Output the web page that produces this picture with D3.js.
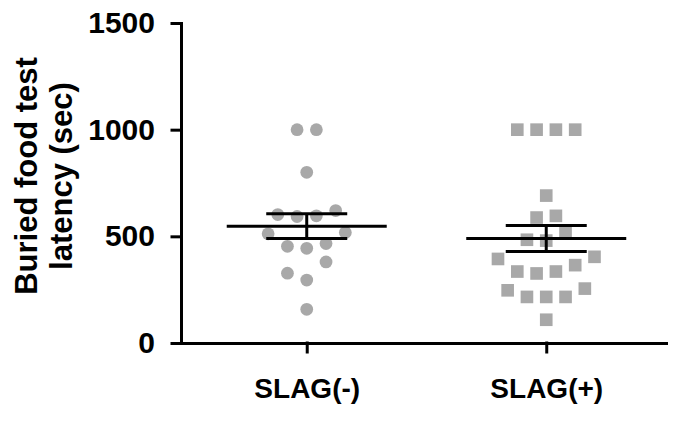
<!DOCTYPE html>
<html>
<head>
<meta charset="utf-8">
<script src="https://cdn.jsdelivr.net/npm/d3@7"></script>
<style>
  body { margin: 0; background: #fff; }
  svg { display: block; }
</style>
</head>
<body>
<svg id="chart"></svg>
<script>
// values
const categories = ["SLAG(-)", "SLAG(+)"];
const slagMinus = [1000, 1000, 800, 621, 596, 593, 602, 518, 512, 466, 444, 453, 380, 327, 295, 158];
const slagPlus = [1000, 1000, 1000, 1000, 691, 588, 596, 518, 484, 480, 394, 404,
                  335, 326, 335, 365, 247, 216, 216, 216, 255, 109];
const yTicks = [0, 500, 1000, 1500];
const yTitle = ["Buried food test", "latency (sec)"];

const width = 685, height = 424;
const font = "Arial, 'Liberation Sans', Helvetica, sans-serif";
const pointColor = "#a8a8a8";
const lineW = 3;

const svg = d3.select("#chart")
    .attr("width", width)
    .attr("height", height);

const y = d3.scaleLinear().domain([0, 1500]).range([343, 23]);
const x = d3.scaleLinear().domain([-0.55, 1.5]).range([175, 666]);
const yAxisX = 181;

const spacing = 19.3;   // horizontal step between points in a row
const rowGap = 20;      // px, points closer than this share a row

// Prism-like scatter: group into rows from the bottom up, spread each row symmetrically
function swarm(values, cx) {
    const sorted = values.map(v => v).sort((a, b) => a - b);
    const rows = [];
    sorted.forEach(v => {
        const row = rows[rows.length - 1];
        if (row && y(row[0]) - y(v) < rowGap) row.push(v);
        else rows.push([v]);
    });
    const out = [];
    rows.forEach(row => {
        const n = row.length;
        row.forEach((v, k) => {
            let slot;
            if (n % 2) slot = k === 0 ? 0 : (k % 2 ? -1 : 1) * Math.ceil(k / 2);
            else slot = (k % 2 ? 1 : -1) * (Math.floor(k / 2) + 0.5);
            out.push({ value: v, px: cx + slot * spacing });
        });
    });
    return out;
}

const groups = [slagMinus, slagPlus].map((vals, i) => {
    const mean = d3.mean(vals);
    const sem = d3.deviation(vals) / Math.sqrt(vals.length);
    return { i, vals, mean, sem, pts: swarm(vals, x(i)) };
});

// Points
const symbols = [d3.symbol().type(d3.symbolCircle).size(128),
                 d3.symbol().type(d3.symbolSquare).size(160)];

groups.forEach(g => {
    svg.append("g")
        .selectAll("path")
        .data(g.pts)
        .enter()
        .append("path")
        .attr("transform", d => `translate(${d.px},${y(d.value)})`)
        .attr("d", symbols[g.i]())
        .attr("fill", pointColor);
});

// Mean +/- SEM
const meanHalf = 80, capHalf = 40.5;
groups.forEach(g => {
    const cx = x(g.i);
    const gg = svg.append("g")
        .attr("stroke", "#000")
        .attr("stroke-width", lineW);
    gg.append("line")
        .attr("x1", cx - meanHalf).attr("x2", cx + meanHalf)
        .attr("y1", y(g.mean)).attr("y2", y(g.mean));
    [g.mean + g.sem, g.mean - g.sem].forEach(v => {
        gg.append("line")
            .attr("x1", cx - capHalf).attr("x2", cx + capHalf)
            .attr("y1", y(v)).attr("y2", y(v));
    });
    gg.append("line")
        .attr("x1", cx).attr("x2", cx)
        .attr("y1", y(g.mean + g.sem)).attr("y2", y(g.mean - g.sem));
});

// Y Axis
const yAxis = svg.append("g")
    .attr("transform", `translate(${yAxisX},0)`)
    .call(d3.axisLeft(y).tickValues(yTicks).tickFormat(d3.format("d"))
        .tickSize(9).tickSizeOuter(0).tickPadding(17));

// X Axis
const xAxis = svg.append("g")
    .attr("transform", `translate(0,${y(0)})`)
    .call(d3.axisBottom(x).tickValues([0, 1]).tickFormat(i => categories[i])
        .tickSize(9).tickSizeOuter(0).tickPadding(26));

[yAxis, xAxis].forEach(a => {
    a.attr("font-family", font).attr("font-weight", "bold");
    a.selectAll("path, line")
        .attr("stroke", "#000")
        .attr("stroke-width", lineW)
        .attr("stroke-linecap", "square");
    a.selectAll("text").attr("fill", "#000");
});
yAxis.attr("font-size", 30);
xAxis.attr("font-size", 28);

// Y Axis Label
const title = svg.append("text")
    .attr("transform", "rotate(-90)")
    .attr("text-anchor", "middle")
    .attr("font-family", font)
    .attr("font-size", 31)
    .attr("font-weight", "bold")
    .attr("fill", "#000");
yTitle.forEach((t, k) => {
    title.append("tspan")
        .attr("x", -176)
        .attr("y", 37 + k * 35)
        .text(t);
});
</script>
</body>
</html>
